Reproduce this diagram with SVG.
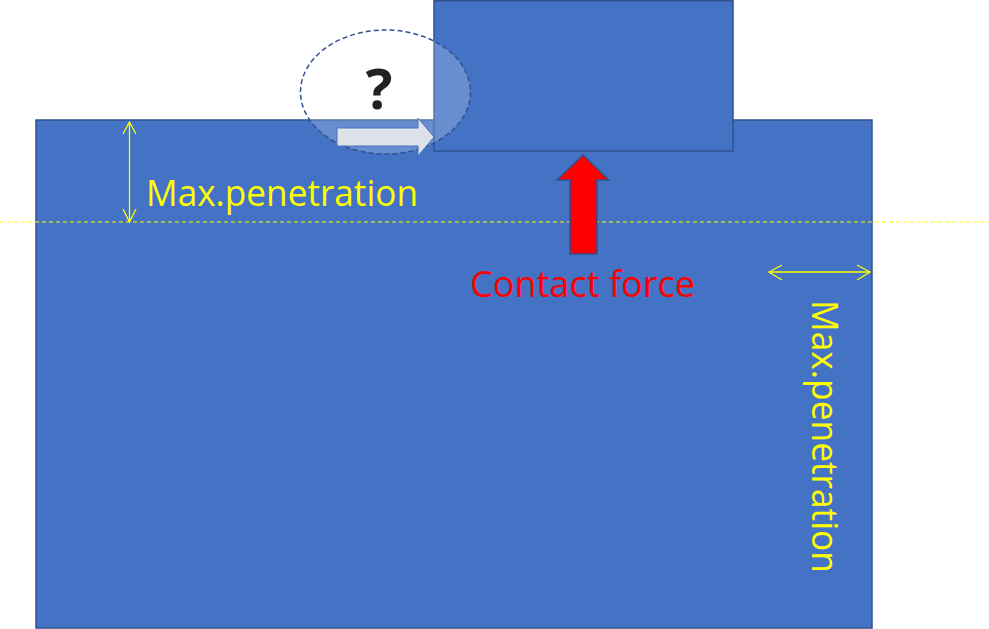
<svg xmlns="http://www.w3.org/2000/svg" width="989" height="629" viewBox="0 0 989 629">
<style>
.body{fill:#4472C4;stroke:#2F528F;stroke-width:1.5}
.yl{stroke:#FFFF00;stroke-width:1.3;fill:none}
.lbl{font-family:"Open Sans","Noto Sans","Liberation Sans",sans-serif;font-size:36px;fill:#FFFF00}
</style>
<rect width="989" height="629" fill="#FFFFFF"/>
<g id="ground"><rect class="body" x="36" y="120" width="836" height="508"/></g>
<g id="block"><rect class="body" x="434" y="0.75" width="299" height="150.25"/></g>
<g id="question">
<ellipse cx="385.5" cy="92" rx="85" ry="62" fill="#FFFFFF" fill-opacity="0.2" stroke="#2F528F" stroke-width="1.5" stroke-dasharray="5 3"/>
<text x="379" y="109" font-family="'Open Sans','Noto Sans','Liberation Sans',sans-serif" font-size="56" font-weight="bold" fill="#222222" text-anchor="middle">?</text>
<path d="M337,128 L418,128 L418,118 L434,137 L418,156 L418,146 L337,146 Z" fill="#DDE1E8" stroke="#4472C4" stroke-width="1"/>
</g>
<g id="connectors">
<line x1="0" y1="222" x2="989" y2="222" stroke="#FFFF00" stroke-width="1.2" stroke-dasharray="4 3"/>
<line class="yl" x1="129.5" y1="122" x2="129.5" y2="222"/>
<polyline class="yl" points="123,134 129.5,122 136,134"/>
<polyline class="yl" points="123,209 129.5,222 136,209"/>
<line class="yl" x1="769" y1="272" x2="870" y2="272"/>
<polyline class="yl" points="782,265 769,272 782,280"/>
<polyline class="yl" points="857,265 870,272 857,280"/>
<path d="M583,155 L609,180 L597,180 L597,254 L570,254 L570,180 L557,180 Z" fill="#FF0000" stroke="#2F528F" stroke-width="1.5"/>
</g>
<g id="labels">
<text class="lbl" x="146" y="206" textLength="272" lengthAdjust="spacingAndGlyphs">Max.penetration</text>
<text x="470" y="297" font-family="'Open Sans','Noto Sans','Liberation Sans',sans-serif" font-size="36" fill="#FF0000" textLength="225" lengthAdjust="spacingAndGlyphs">Contact force</text>
<text class="lbl" transform="translate(812,300) rotate(90)" x="0" y="0" textLength="273" lengthAdjust="spacingAndGlyphs">Max.penetration</text>
</g>
</svg>
